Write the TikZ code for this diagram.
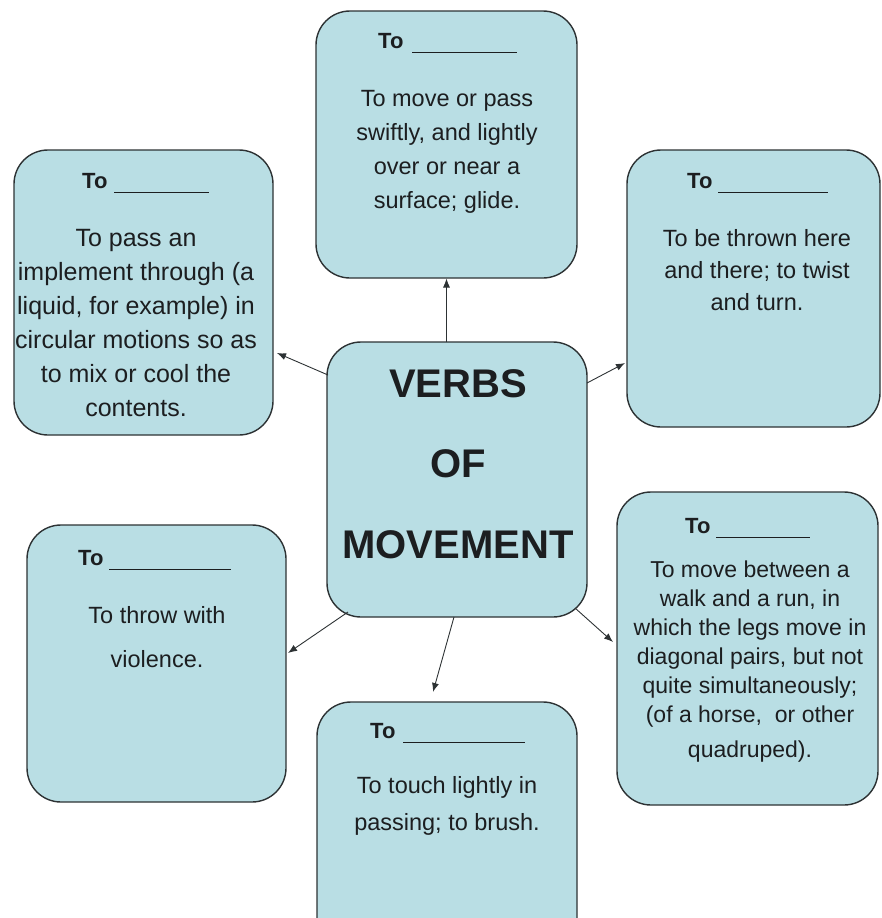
\documentclass[tikz,border=0pt]{standalone}
\usepackage{fontspec}
\setmainfont{Liberation Sans}
\usetikzlibrary{calc,arrows.meta}
\definecolor{boxfill}{RGB}{185,222,228}
\definecolor{boxline}{RGB}{45,50,52}
\definecolor{inkcol}{RGB}{28,30,32}
% blank to be filled in after "To"
\newcommand{\blankline}[1]{\rule[-5pt]{#1}{1.3pt}}

\begin{document}
\begin{tikzpicture}[x=1pt,y=-1pt,
  card/.style={draw=boxline, line width=1.4pt, fill=boxfill, rounded corners=34pt, inner sep=0pt},
  heading/.style={anchor=base west, inner sep=0pt, text=inkcol,
    font=\fontsize{22pt}{26pt}\selectfont\bfseries},
  % multi-line text: the base anchor sits on the last line
  body/.style={anchor=base, inner sep=0pt, align=center, text=inkcol,
    font=\fontsize{23.5pt}{34pt}\selectfont},
  link/.style={draw=boxline, line width=0.9pt, -{Latex[length=9pt,width=7pt]}},
]
\useasboundingbox (0,0) rectangle (881,918);
\clip (0,0) rectangle (881,918);

% cards
\node[card, minimum width=261pt, minimum height=267pt] (T)  at (446.5,144.5) {};
\node[card, minimum width=259pt, minimum height=285pt] (TL) at (143.5,292.5) {};
\node[card, minimum width=253pt, minimum height=277pt] (TR) at (753.5,288.5) {};
\node[card, minimum width=260pt, minimum height=275pt] (C)  at (457,479.5) {};
\node[card, minimum width=259pt, minimum height=277pt] (BL) at (156.5,663.5) {};
\node[card, minimum width=261pt, minimum height=313pt] (BR) at (747.5,648.5) {};
\node[card, minimum width=260pt, minimum height=258pt] (B)  at (447,831) {};

% connectors from the centre card
\draw[link] ($(C)+(-10.5,-137.5)$) -- ($(T)+(0,134)$);
\draw[link] ($(C)+(-129,-104.5)$) -- ($(TL)+(133.5,60.5)$);
\draw[link] ($(C)+(130,-96.5)$) -- ($(TR)+(-128.5,74.5)$);
\draw[link] ($(C)+(-109,132.5)$) -- ($(BL)+(131.5,-10.5)$);
\draw[link] ($(C)+(-3,137.5)$) -- ($(B)+(-14,-139)$);
\draw[link] ($(C)+(118,128.5)$) -- ($(BR)+(-134.5,-6.5)$);

% centre title
\node[anchor=base, inner sep=0pt, align=center, text=inkcol,
  font=\fontsize{40pt}{80.5pt}\selectfont\bfseries] (ctitle) at (458,558)
  {VERBS\\OF\\MOVEMENT};

% headings
\node[heading] (hT)  at (378,48)  {To\hspace{9pt}\blankline{105pt}};
\node[heading] (hTL) at (82,188)  {To\hspace{7pt}\blankline{95pt}};
\node[heading] (hTR) at (687,188) {To\hspace{6pt}\blankline{110pt}};
\node[heading] (hBL) at (78,565)  {To\hspace{6pt}\blankline{122pt}};
\node[heading] (hBR) at (685,533) {To\hspace{6pt}\blankline{94pt}};
\node[heading] (hB)  at (370,738) {To\hspace{8pt}\blankline{122pt}};

% definitions
\node[body] (dT) at (447,208)
  {To move or pass\\swiftly, and lightly\\over or near a\\surface; glide.};
\node[body, font=\fontsize{25pt}{34pt}\selectfont] (dTL) at (136,416)
  {To pass an\\implement through (a\\liquid, for example) in\\circular motions so as\\to mix or cool the\\contents.};
\node[body, font=\fontsize{23.5pt}{32pt}\selectfont] (dTR) at (757,310)
  {To be thrown here\\and there; to twist\\and turn.};
\node[body, font=\fontsize{23.5pt}{44pt}\selectfont] (dBL) at (157,667)
  {To throw with\\violence.};
\node[body, font=\fontsize{23pt}{29pt}\selectfont] (dBR) at (750,757)
  {To move between a\\walk and a run, in\\which the legs move in\\diagonal pairs, but not\\quite simultaneously;\\(of a horse,\ \ or other\\[6pt]quadruped).};
\node[body, font=\fontsize{23.5pt}{37pt}\selectfont] (dB) at (447,830)
  {To touch lightly in\\passing; to brush.};
\end{tikzpicture}
\end{document}
